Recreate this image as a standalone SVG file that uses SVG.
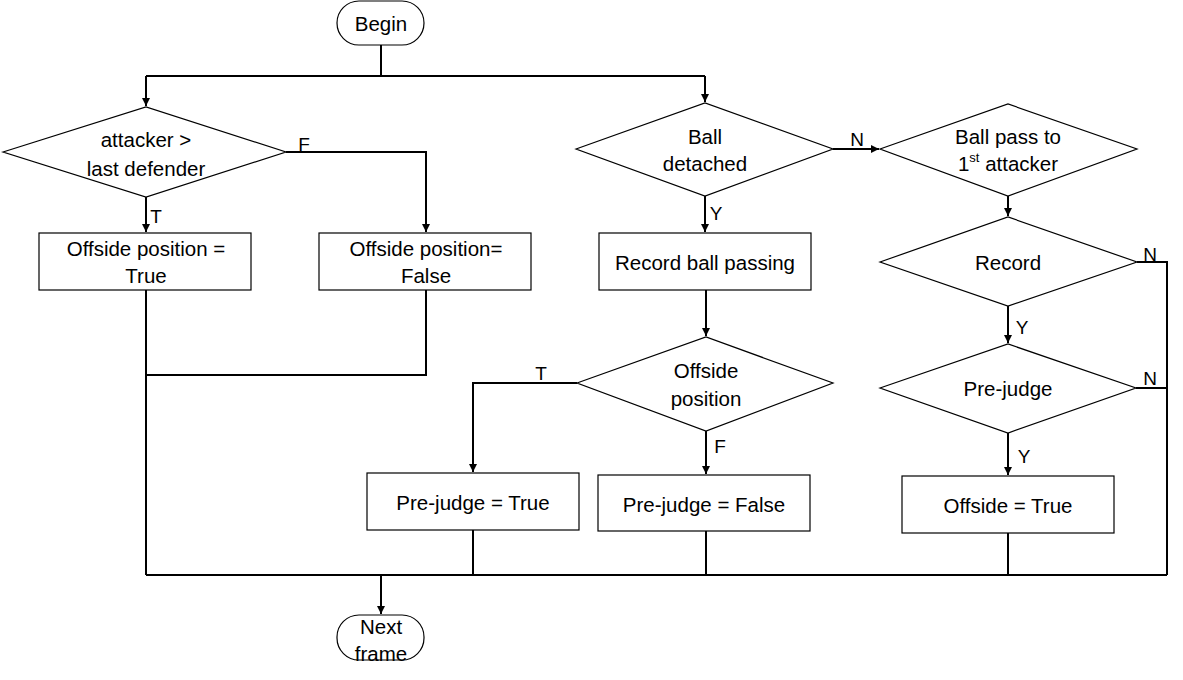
<svg xmlns="http://www.w3.org/2000/svg" width="1183" height="680" viewBox="0 0 1183 680">
<defs>
<marker id="arr" markerWidth="10" markerHeight="10" refX="8" refY="5" orient="auto" markerUnits="userSpaceOnUse">
<path d="M0,1 L8,5 L0,9 Z" fill="#000"/>
</marker>
<style>
.shape{fill:#fff;stroke:#000;stroke-width:1.2}
.t{font-family:"Liberation Sans",Arial,sans-serif;font-size:20.5px;fill:#000;text-anchor:middle;dominant-baseline:central}
.lbl{font-family:"Liberation Sans",Arial,sans-serif;font-size:19px;fill:#000;text-anchor:middle;dominant-baseline:central}
.c{fill:none;stroke:#000;stroke-width:2}
</style>
</defs>
<rect width="1183" height="680" fill="#fff"/>
<g id="connectors">
<path class="c" d="M381,45 V76"/>
<path class="c" d="M146,76 H705"/>
<path class="c" d="M146,76 V106" marker-end="url(#arr)"/>
<path class="c" d="M705,76 V102" marker-end="url(#arr)"/>
<path class="c" d="M146,197 V232" marker-end="url(#arr)"/>
<path class="c" d="M286,152 H426 V232" marker-end="url(#arr)"/>
<path class="c" d="M146,290 V575"/>
<path class="c" d="M426,290 V375 H146"/>
<path class="c" d="M833,149 H879" marker-end="url(#arr)"/>
<path class="c" d="M705,196 V232" marker-end="url(#arr)"/>
<path class="c" d="M706,290 V336" marker-end="url(#arr)"/>
<path class="c" d="M577,383 H473 V472" marker-end="url(#arr)"/>
<path class="c" d="M706,431 V474" marker-end="url(#arr)"/>
<path class="c" d="M473,530 V575"/>
<path class="c" d="M706,531 V575"/>
<path class="c" d="M1008,196 V216" marker-end="url(#arr)"/>
<path class="c" d="M1137,262 H1167 V575"/>
<path class="c" d="M1008,306 V343" marker-end="url(#arr)"/>
<path class="c" d="M1136,388 H1167"/>
<path class="c" d="M1008,433 V475" marker-end="url(#arr)"/>
<path class="c" d="M1008,533 V575"/>
<path class="c" d="M146,575 H1167"/>
<path class="c" d="M381,575 V614" marker-end="url(#arr)"/>
<text class="lbl" x="304" y="144">F</text>
<text class="lbl" x="156" y="216">T</text>
<text class="lbl" x="857" y="139">N</text>
<text class="lbl" x="716" y="213">Y</text>
<text class="lbl" x="541" y="373">T</text>
<text class="lbl" x="720" y="446">F</text>
<text class="lbl" x="1150" y="254">N</text>
<text class="lbl" x="1022" y="327">Y</text>
<text class="lbl" x="1150" y="378">N</text>
<text class="lbl" x="1024" y="456">Y</text>
</g>
<g id="begin">
<rect class="shape" x="337" y="1" width="87" height="44" rx="22"/>
<text class="t" x="381" y="23">Begin</text>
</g>
<g id="d-attacker">
<polygon class="shape" points="3,152 146,107 286,152 146,197"/>
<text class="t" x="146" y="139">attacker &gt;</text>
<text class="t" x="146" y="168">last defender</text>
</g>
<g id="b-offside-true">
<rect class="shape" x="39" y="233" width="212" height="57"/>
<text class="t" x="146" y="248">Offside position =</text>
<text class="t" x="146" y="275">True</text>
</g>
<g id="b-offside-false">
<rect class="shape" x="319" y="233" width="212" height="57"/>
<text class="t" x="426" y="248">Offside position=</text>
<text class="t" x="426" y="275">False</text>
</g>
<g id="d-ball-detached">
<polygon class="shape" points="576,149 705,103 833,149 705,196"/>
<text class="t" x="705" y="136">Ball</text>
<text class="t" x="705" y="163">detached</text>
</g>
<g id="d-ball-pass">
<polygon class="shape" points="880,149 1008,104 1137,149 1008,196"/>
<text class="t" x="1008" y="136">Ball pass to</text>
<text class="t" x="1008" y="163">1<tspan font-size="13" dy="-6">st</tspan><tspan dy="6"> attacker</tspan></text>
</g>
<g id="b-record-ball">
<rect class="shape" x="599" y="233" width="212" height="57"/>
<text class="t" x="705" y="262">Record ball passing</text>
</g>
<g id="d-offside-position">
<polygon class="shape" points="577,383 706,337 833,383 706,431"/>
<text class="t" x="706" y="370">Offside</text>
<text class="t" x="706" y="398">position</text>
</g>
<g id="b-prejudge-true">
<rect class="shape" x="367" y="473" width="212" height="57"/>
<text class="t" x="473" y="502">Pre-judge = True</text>
</g>
<g id="b-prejudge-false">
<rect class="shape" x="598" y="475" width="212" height="56"/>
<text class="t" x="704" y="504">Pre-judge = False</text>
</g>
<g id="d-record">
<polygon class="shape" points="880,262 1008,217 1137,262 1008,306"/>
<text class="t" x="1008" y="262">Record</text>
</g>
<g id="d-prejudge">
<polygon class="shape" points="880,388 1008,344 1136,388 1008,433"/>
<text class="t" x="1008" y="388">Pre-judge</text>
</g>
<g id="b-offside">
<rect class="shape" x="902" y="476" width="212" height="57"/>
<text class="t" x="1008" y="505">Offside = True</text>
</g>
<g id="next-frame">
<rect class="shape" x="337" y="615" width="87" height="45" rx="22"/>
<text class="t" x="381" y="626">Next</text>
<text class="t" x="381" y="653">frame</text>
</g>
</svg>
